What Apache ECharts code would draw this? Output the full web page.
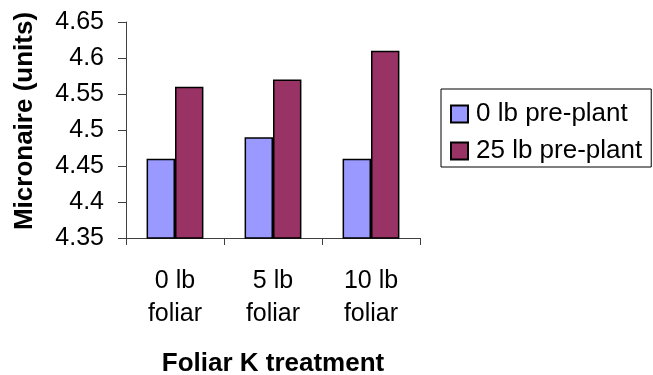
<!DOCTYPE html>
<html>
<head>
<meta charset="utf-8">
<script src="https://cdn.jsdelivr.net/npm/echarts@6/dist/echarts.min.js"></script>
<style>
  html, body { margin: 0; padding: 0; background: #fff; }
  #chart { width: 653px; height: 375px; }
</style>
</head>
<body>
<div id="chart"></div>
<script>
// Micronaire by foliar K rate, split by pre-plant K rate
const categories = ['0 lb\nfoliar', '5 lb\nfoliar', '10 lb\nfoliar'];
const seriesNames = ['0 lb pre-plant', '25 lb pre-plant'];
const prePlant0 = [4.46, 4.49, 4.46];
const prePlant25 = [4.56, 4.57, 4.61];
const yTicks = { min: 4.35, max: 4.65, step: 0.05 };

const FONT = 'Arial, "Liberation Sans", sans-serif';
const AXIS_COLOR = '#404040';

const chart = echarts.init(document.getElementById('chart'), null, { renderer: 'canvas' });

chart.setOption({
  animation: false,
  backgroundColor: '#fff',
  textStyle: { fontFamily: FONT, color: '#000' },
  grid: {
    left: 126, right: 233, top: 22, bottom: 137,
    containLabel: false,
    outerBoundsMode: 'none'
  },
  legend: {
    orient: 'vertical',
    left: 441,
    top: 89,
    padding: [12, 9, 3, 9],
    itemWidth: 17,
    itemHeight: 17,
    itemGap: 11,
    borderColor: '#000',
    borderWidth: 1,
    icon: 'rect',
    textStyle: { fontFamily: FONT, fontSize: 26, color: '#000', padding: [0, 0, 0, 3] },
    data: seriesNames
  },
  xAxis: {
    type: 'category',
    data: categories,
    name: 'Foliar K treatment',
    nameLocation: 'middle',
    nameGap: 113,
    nameTextStyle: { fontFamily: FONT, fontSize: 26, fontWeight: 'bold', color: '#000' },
    axisLine: { lineStyle: { color: AXIS_COLOR, width: 1 } },
    axisTick: { show: true, alignWithLabel: false, length: 7, lineStyle: { color: AXIS_COLOR } },
    axisLabel: { fontFamily: FONT, fontSize: 25, color: '#000', lineHeight: 33, margin: 27, interval: 0 },
    splitLine: { show: false }
  },
  yAxis: {
    type: 'value',
    min: yTicks.min,
    max: yTicks.max,
    interval: yTicks.step,
    name: 'Micronaire (units)',
    nameLocation: 'middle',
    nameGap: 88,
    nameRotate: 90,
    nameTextStyle: { fontFamily: FONT, fontSize: 26, fontWeight: 'bold', color: '#000', padding: [0, 0, 0, 18] },
    axisLine: { show: true, lineStyle: { color: AXIS_COLOR, width: 1 } },
    axisTick: { show: true, length: 8, lineStyle: { color: AXIS_COLOR } },
    axisLabel: {
      fontFamily: FONT, fontSize: 25, color: '#000', margin: 22,
      formatter: v => String(parseFloat(v.toFixed(2)))
    },
    splitLine: { show: false }
  },
  series: [
    {
      name: seriesNames[0],
      type: 'bar',
      data: prePlant0,
      barGap: '0%',
      barCategoryGap: '42%',
      itemStyle: { color: '#9999FF', borderColor: '#000', borderWidth: 1.5 }
    },
    {
      name: seriesNames[1],
      type: 'bar',
      data: prePlant25,
      barGap: '0%',
      barCategoryGap: '42%',
      itemStyle: { color: '#993366', borderColor: '#000', borderWidth: 1.5 }
    }
  ]
});
</script>
</body>
</html>
